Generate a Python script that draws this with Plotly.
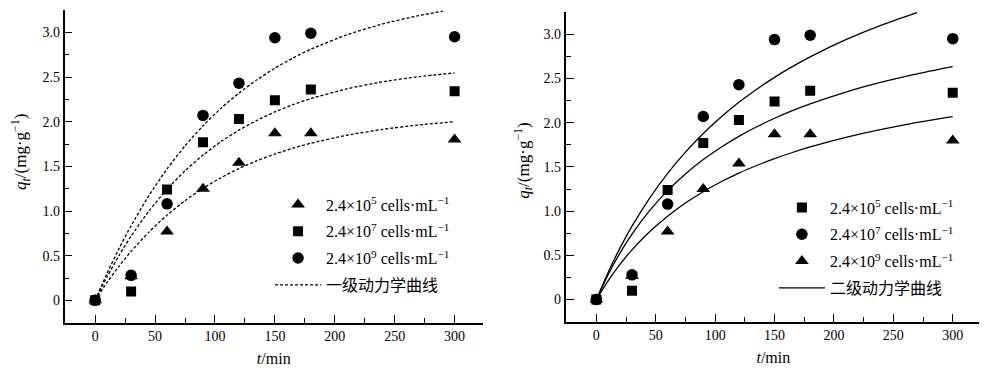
import plotly.graph_objects as go

# ---------------- data ----------------
t_obs = [0, 30, 60, 90, 120, 150, 180, 300]
q_tri = [0, 0.27, 0.77, 1.25, 1.54, 1.87, 1.87, 1.80]
q_sq = [0, 0.10, 1.24, 1.77, 2.03, 2.24, 2.36, 2.34]
q_ci = [0, 0.28, 1.08, 2.07, 2.43, 2.94, 2.99, 2.95]

# fitted curves, values
t_fit = [0, 10, 20, 30, 45, 60, 75, 90, 105, 120, 135, 150, 165, 180, 210, 240, 270, 300]
t_fit_top1 = [0, 10, 20, 30, 45, 60, 75, 90, 105, 120, 135, 150, 165, 180, 210, 240, 270, 290]
pfo_top = [0, 0.305, 0.583, 0.836, 1.176, 1.471, 1.729, 1.954, 2.150, 2.320, 2.469, 2.599, 2.712, 2.811, 2.972, 3.094, 3.187, 3.236]
pfo_mid = [0, 0.265, 0.504, 0.719, 1.002, 1.243, 1.450, 1.626, 1.777, 1.905, 2.015, 2.109, 2.190, 2.258, 2.367, 2.446, 2.504, 2.546]
pfo_bot = [0, 0.202, 0.384, 0.549, 0.767, 0.954, 1.116, 1.254, 1.373, 1.475, 1.563, 1.638, 1.703, 1.759, 1.848, 1.914, 1.963, 1.999]

t_fit_top2 = [0, 10, 20, 30, 45, 60, 75, 90, 105, 120, 135, 150, 165, 180, 210, 240, 270]
pso_top = [0, 0.310, 0.585, 0.830, 1.151, 1.427, 1.667, 1.878, 2.064, 2.230, 2.379, 2.513, 2.634, 2.745, 2.939, 3.104, 3.245]
pso_mid = [0, 0.285, 0.528, 0.740, 1.008, 1.232, 1.421, 1.583, 1.723, 1.846, 1.954, 2.050, 2.136, 2.213, 2.347, 2.459, 2.553, 2.634]
pso_bot = [0, 0.214, 0.400, 0.562, 0.769, 0.943, 1.092, 1.220, 1.332, 1.430, 1.516, 1.594, 1.663, 1.726, 1.835, 1.925, 2.003, 2.069]

lab5 = "2.4×10<sup>5</sup> cells·mL<sup>−1</sup>"
lab7 = "2.4×10<sup>7</sup> cells·mL<sup>−1</sup>"
lab9 = "2.4×10<sup>9</sup> cells·mL<sup>−1</sup>"
lab_pfo = "一级动力学曲线"
lab_pso = "二级动力学曲线"
x_title = "<i>t</i>/min"
y_title = "<i>q<sub>t</sub></i>/(mg·g<sup>−1</sup>)"

x_tickvals = [0, 50, 100, 150, 200, 250, 300]
x_ticktext = ["0", "50", "100", "150", "200", "250", "300"]
y_tickvals = [0, 0.5, 1.0, 1.5, 2.0, 2.5, 3.0]
y_ticktext = ["0", "0.5", "1.0", "1.5", "2.0", "2.5", "3.0"]

FONT = "Liberation Serif, Times New Roman, Noto Sans CJK SC, serif"
W, H = 987, 374
OFF = 8  # page body margin

def px_x(p):
    return (p - OFF) / W

def px_y(p):
    return 1 - (p - OFF) / H

fig = go.Figure()

def mk(name, x, y, sym, size, xa, ya, leg, grp):
    return go.Scatter(x=x, y=y, mode="markers", name=name,
                      marker=dict(symbol=sym, size=size, color="black"),
                      xaxis=xa, yaxis=ya, legend=leg, legendgroup=grp)

def ln(name, x, y, dash, xa, ya, leg, grp, show):
    return go.Scatter(x=x, y=y, mode="lines", name=name,
                      line=dict(color="black", width=1.3, dash=dash, shape="spline", smoothing=0.6),
                      xaxis=xa, yaxis=ya, legend=leg, legendgroup=grp, showlegend=show)

# left panel (pseudo-first-order)
fig.add_trace(ln(lab_pfo, t_fit_top1, pfo_top, "3px,2px", "x", "y", "legend", "l4", False))
fig.add_trace(ln(lab_pfo, t_fit, pfo_mid, "3px,2px", "x", "y", "legend", "l4", False))
fig.add_trace(ln(lab_pfo, t_fit, pfo_bot, "3px,2px", "x", "y", "legend", "l4", False))
fig.add_trace(mk(lab5, t_obs, q_tri, "triangle-up", 12, "x", "y", "legend", "l1"))
fig.add_trace(mk(lab7, t_obs, q_sq, "square", 10, "x", "y", "legend", "l2"))
fig.add_trace(mk(lab9, t_obs, q_ci, "circle", 11.5, "x", "y", "legend", "l3"))
fig.add_trace(ln(lab_pfo, [None], [None], "3px,2px", "x", "y", "legend", "l4", True))

# right panel (pseudo-second-order)
fig.add_trace(ln(lab_pso, t_fit_top2, pso_top, "solid", "x2", "y2", "legend2", "r4", False))
fig.add_trace(ln(lab_pso, t_fit, pso_mid, "solid", "x2", "y2", "legend2", "r4", False))
fig.add_trace(ln(lab_pso, t_fit, pso_bot, "solid", "x2", "y2", "legend2", "r4", False))
fig.add_trace(mk(lab5, t_obs, q_sq, "square", 10, "x2", "y2", "legend2", "r1"))
fig.add_trace(mk(lab7, t_obs, q_ci, "circle", 11.5, "x2", "y2", "legend2", "r2"))
fig.add_trace(mk(lab9, t_obs, q_tri, "triangle-up", 12, "x2", "y2", "legend2", "r3"))
fig.add_trace(ln(lab_pso, [None], [None], "solid", "x2", "y2", "legend2", "r4", True))

def xax(domain, rng, anchor):
    return dict(domain=domain, range=rng, anchor=anchor, showline=True, linecolor="black",
                linewidth=1.6, ticks="inside", ticklen=8, tickwidth=1.4, tickcolor="black",
                tickvals=x_tickvals, ticktext=x_ticktext, showgrid=False, zeroline=False,
                minor=dict(ticks="inside", ticklen=5, tickwidth=1.4, tickcolor="black",
                           tickvals=[25, 75, 125, 175, 225, 275], showgrid=False),
                tickfont=dict(family=FONT, size=14, color="black"),
                title=dict(text=x_title, font=dict(family=FONT, size=16, color="black"), standoff=10))

def yax(domain, rng, anchor):
    return dict(domain=domain, range=rng, anchor=anchor, showline=True, linecolor="black",
                linewidth=1.6, ticks="inside", ticklen=8, tickwidth=1.4, tickcolor="black",
                tickvals=y_tickvals, ticktext=y_ticktext, showgrid=False, zeroline=False,
                minor=dict(ticks="inside", ticklen=5, tickwidth=1.4, tickcolor="black",
                           tickvals=[0.25, 0.75, 1.25, 1.75, 2.25, 2.75, 3.25], showgrid=False),
                tickfont=dict(family=FONT, size=14, color="black"))

legcommon = dict(font=dict(family=FONT, size=16, color="black"), bgcolor="rgba(0,0,0,0)",
                 borderwidth=0, itemwidth=46, tracegroupgap=3, xanchor="left", yanchor="top",
                 traceorder="grouped")

ytitle_font = dict(family=FONT, size=17, color="black")

fig.update_layout(
    width=W, height=H, margin=dict(l=0, r=0, t=0, b=0),
    paper_bgcolor="white", plot_bgcolor="white",
    xaxis=xax([px_x(64.5), px_x(483)], [-25.6, 323.7], "y"),
    yaxis=yax([px_y(322.7), px_y(10)], [-0.25, 3.25], "x"),
    xaxis2=xax([px_x(565.7), px_x(981)], [-25.8, 323.8], "y2"),
    yaxis2=yax([px_y(321.7), px_y(11.7)], [-0.25, 3.255], "x2"),
    legend=dict(x=0.2655, y=0.5200, **legcommon),
    legend2=dict(x=0.776, y=0.5120, **legcommon),
    showlegend=True,
    annotations=[
        dict(text=y_title, xref="paper", yref="paper", x=px_x(20), y=px_y(152),
             textangle=-90, showarrow=False, font=ytitle_font, xanchor="center", yanchor="middle"),
        dict(text=y_title, xref="paper", yref="paper", x=px_x(522.7), y=px_y(161),
             textangle=-90, showarrow=False, font=ytitle_font, xanchor="center", yanchor="middle"),
    ],
)

fig.write_html("out.html")
